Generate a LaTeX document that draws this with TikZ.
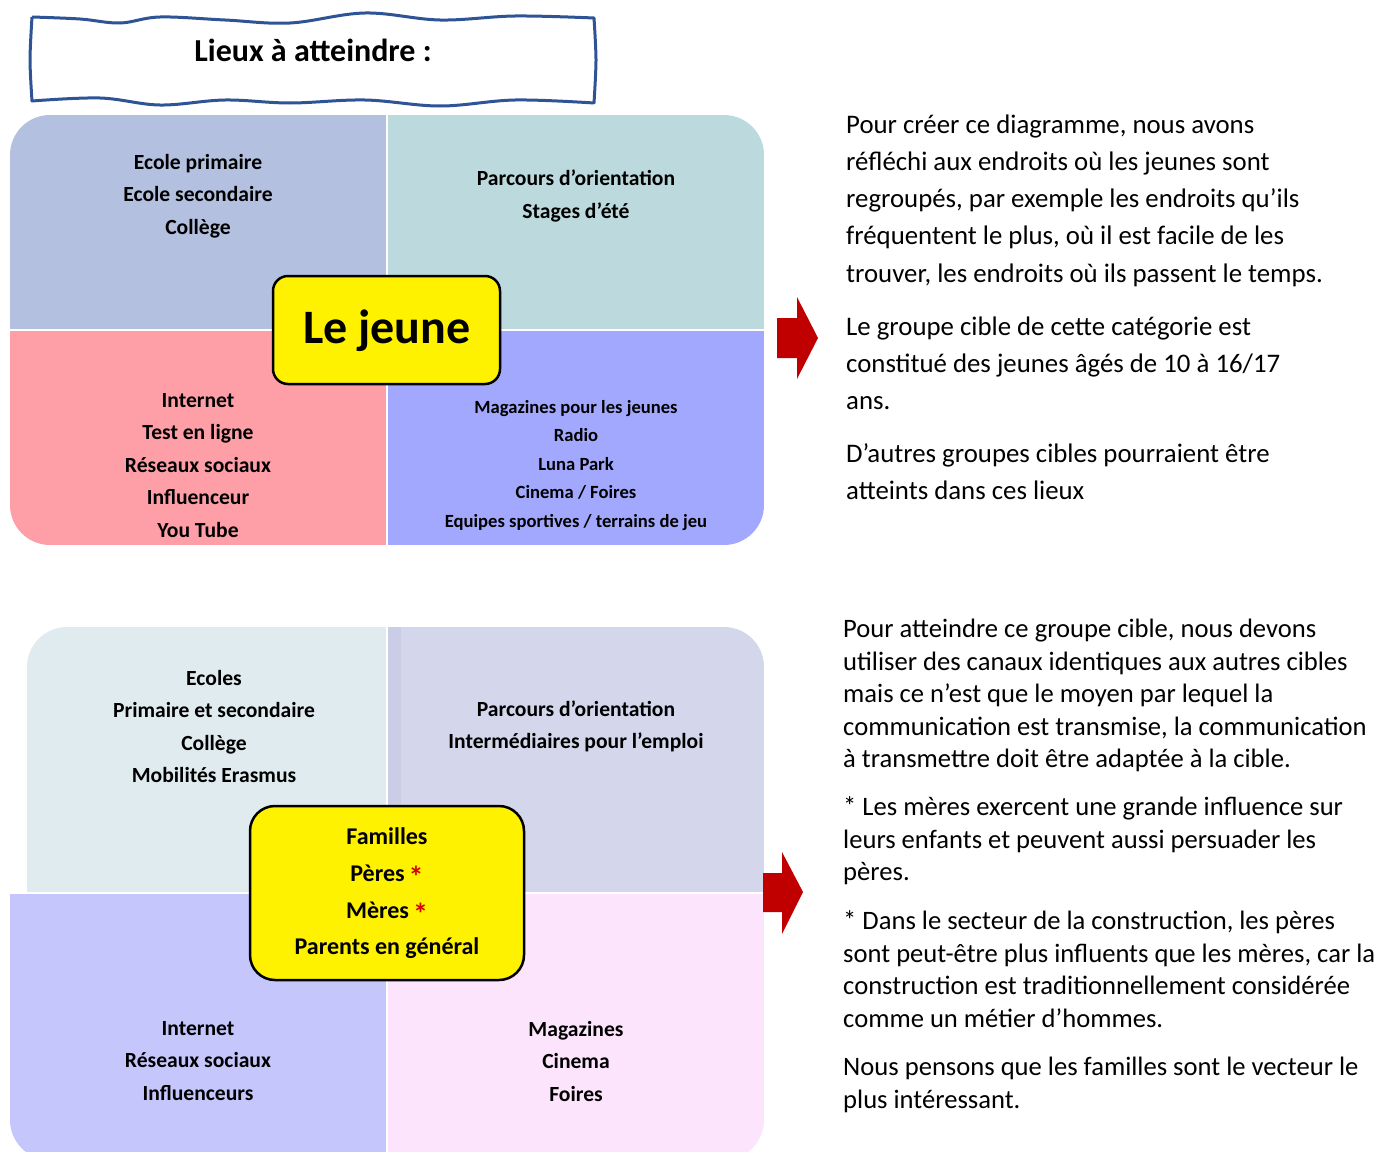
\documentclass[tikz,border=0pt]{standalone}
\usepackage{fontspec}
\setmainfont{Carlito}
\usetikzlibrary{calc}

\definecolor{qTL}{HTML}{B4C0DF}
\definecolor{qTR}{HTML}{BCDADE}
\definecolor{qBL}{HTML}{FE9FA8}
\definecolor{qBR}{HTML}{A2A8FE}
\definecolor{pTL}{HTML}{E0EBEF}
\definecolor{pTR}{HTML}{D4D6EB}
\definecolor{pStrip}{HTML}{CACDE5}
\definecolor{pBL}{HTML}{C4C6FC}
\definecolor{pBR}{HTML}{FCE4FC}
\definecolor{arrowred}{HTML}{C00000}
\definecolor{titleblue}{HTML}{2E5496}
\definecolor{starred}{HTML}{D80000}

\tikzset{
  quadtext/.style={align=center, inner sep=0pt, font=\bfseries\fontsize{21.6}{32.5}\selectfont},
  smallquad/.style={align=center, inner sep=0pt, font=\bfseries\fontsize{18.6}{28.5}\selectfont},
  centerbox/.style={fill=yellow, draw=black, line width=2.5pt},
  % multi-line paragraphs: the base anchor sits on the baseline of the last line
  bodytop/.style={align=left, inner sep=0pt, anchor=base west, font=\fontsize{26.8}{37.3}\selectfont},
  bodybot/.style={align=left, inner sep=0pt, anchor=base west, font=\fontsize{26.6}{32.5}\selectfont},
  bigarrow/.style={fill=arrowred, draw=none},
}
% red footnote star after a family member
\newcommand{\redstar}{\,{\color{starred}\fontsize{30}{30}\selectfont\raisebox{-0.2em}{*}}}

\begin{document}
\begin{tikzpicture}[x=1pt,y=-1pt]
\useasboundingbox (0,0) rectangle (1380,1151);

% ---------- title in a wavy frame ----------
\draw[titleblue, line width=3pt, line join=round]
  plot[smooth, tension=0.6] coordinates {(32,17) (80,19) (120,23) (160,17) (225,20) (290,23) (365,13) (440,20) (515,16) (594,18)}
  -- plot[smooth] coordinates {(594,18) (596,60) (594,103)}
  -- plot[smooth, tension=0.6] coordinates {(594,103) (515,100) (440,106) (365,100) (290,103) (225,100) (160,105) (100,98) (32,101)}
  -- plot[smooth] coordinates {(32,101) (30,60) (32,17)};
\node[font=\bfseries\fontsize{32}{34}\selectfont] (title) at (313,50) {Lieux à atteindre :};

% ---------- first matrix : young people ----------
\begin{scope}
  \clip[rounded corners=40pt] (10,115) rectangle (600,600);
  \fill[qTL] (10,115) rectangle (386,329);
\end{scope}
\begin{scope}
  \clip[rounded corners=40pt] (200,115) rectangle (764,600);
  \fill[qTR] (388,115) rectangle (764,329);
\end{scope}
\begin{scope}
  \clip[rounded corners=40pt] (10,0) rectangle (600,545);
  \fill[qBL] (10,331) rectangle (386,545);
\end{scope}
\begin{scope}
  \clip[rounded corners=40pt] (200,0) rectangle (764,545);
  \fill[qBR] (388,331) rectangle (764,545);
\end{scope}

\node[quadtext] (tl1) at (198,196) {Ecole primaire\\Ecole secondaire\\Collège};
\node[quadtext] (tr1) at (576,196) {Parcours d’orientation\\Stages d’été};
\node[quadtext] (bl1) at (198,465.5) {Internet\\Test en ligne\\Réseaux sociaux\\Influenceur\\You Tube};
\node[smallquad] (br1) at (576,465.5) {Magazines pour les jeunes\\Radio\\Luna Park\\Cinema / Foires\\Equipes sportives / terrains de jeu};

\draw[centerbox, rounded corners=15pt] (273,276) rectangle (500,384);
\node[font=\bfseries\fontsize{48}{52}\selectfont] (jeune) at (387,331) {Le jeune};

\fill[bigarrow] (777,318) -- (797,318) -- (797,297) -- (818,338) -- (797,379) -- (797,358) -- (777,358) -- cycle;

\node[bodytop] (p1) at (846,282.2)
  {Pour créer ce diagramme, nous avons\\
   réfléchi aux endroits où les jeunes sont\\
   regroupés, par exemple les endroits qu’ils\\
   fréquentent le plus, où il est facile de les\\
   trouver, les endroits où ils passent le temps.};
\node[bodytop] (p2) at (846,409.6)
  {Le groupe cible de cette catégorie est\\
   constitué des jeunes âgés de 10 à 16/17\\
   ans.};
\node[bodytop] (p3) at (846,499.3)
  {D’autres groupes cibles pourraient être\\
   atteints dans ces lieux};

% ---------- second matrix : families ----------
\begin{scope}
  \clip[rounded corners=40pt] (27,627) rectangle (600,1000);
  \fill[pTL] (27,627) rectangle (386,892);
\end{scope}
\begin{scope}
  \clip[rounded corners=40pt] (200,627) rectangle (764,1000);
  \fill[pTR] (388,627) rectangle (764,892);
  \fill[pStrip] (388,627) rectangle (401,892);
\end{scope}
\begin{scope}
  \clip[rounded corners=40pt] (10,700) rectangle (600,1160);
  \fill[pBL] (10,894) rectangle (386,1160);
\end{scope}
\begin{scope}
  \clip[rounded corners=40pt] (200,700) rectangle (764,1160);
  \fill[pBR] (388,894) rectangle (764,1160);
\end{scope}

\node[quadtext] (tl2) at (214,726.5) {Ecoles\\Primaire et secondaire\\Collège\\Mobilités Erasmus};
\node[quadtext] (tr2) at (576,726.5) {Parcours d’orientation\\Intermédiaires pour l’emploi};
\node[quadtext] (bl2) at (198,1061) {Internet\\Réseaux sociaux\\Influenceurs};
\node[quadtext] (br2) at (576,1061) {Magazines\\Cinema\\Foires};

\draw[centerbox, rounded corners=25pt] (250,806) rectangle (524,980);
\node[align=center, inner sep=0pt, font=\bfseries\fontsize{24}{36.7}\selectfont] (familles) at (387,893.5)
  {Familles\\Pères\redstar\\Mères\redstar\\Parents en général};

\fill[bigarrow] (763,873) -- (782,873) -- (782,852) -- (803,892) -- (782,934) -- (782,912) -- (763,912) -- cycle;

\node[bodybot] (q1) at (843,767.5)
  {Pour atteindre ce groupe cible, nous devons\\
   utiliser des canaux identiques aux autres cibles\\
   mais ce n’est que le moyen par lequel la\\
   communication est transmise, la communication\\
   à transmettre doit être adaptée à la cible.};
\node[bodybot] (q2) at (843,880.5)
  {* Les mères exercent une grande influence sur\\
   leurs enfants et peuvent aussi persuader les\\
   pères.};
\node[bodybot] (q3) at (843,1027)
  {* Dans le secteur de la construction, les pères\\
   sont peut-être plus influents que les mères, car la\\
   construction est traditionnellement considérée\\
   comme un métier d’hommes.};
\node[bodybot] (q4) at (843,1108)
  {Nous pensons que les familles sont le vecteur le\\
   plus intéressant.};
\end{tikzpicture}
\end{document}
